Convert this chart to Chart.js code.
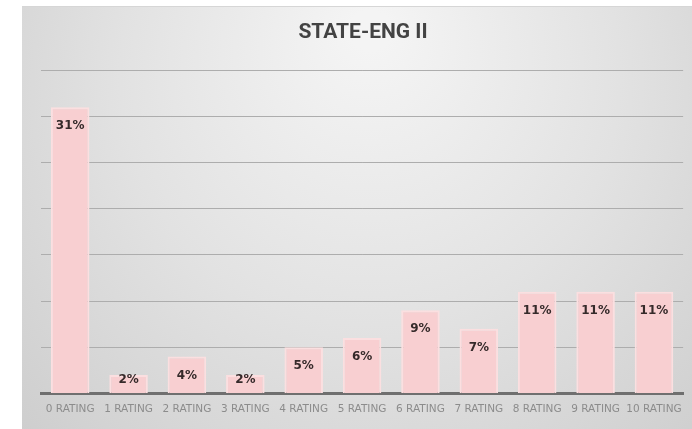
<!DOCTYPE html>
<html lang="en">
<head>
    <meta charset="UTF-8">
    <title>STATE-ENG II</title>
    <script src="https://cdn.jsdelivr.net/npm/chart.js@4.4.0/dist/chart.umd.min.js"></script>
    <style>
        html, body { margin: 0; padding: 0; background: #fff; }
        #box { width: 692px; height: 429px; }
    </style>
</head>
<body>
    <div id="box"><canvas id="myChart"></canvas></div>

    <script>
        // ratings and the share of answers for each
        const ratings = ['0 RATING', '1 RATING', '2 RATING', '3 RATING', '4 RATING', '5 RATING',
                         '6 RATING', '7 RATING', '8 RATING', '9 RATING', '10 RATING'];
        const shares = [31, 2, 4, 2, 5, 6, 9, 7, 11, 11, 11];
        const yTicks = [0, 5, 10, 15, 20, 25, 30, 35];

        // grey panel behind the chart
        const panelBg = {
            id: 'panelBg',
            beforeDraw(chart) {
                const ctx = chart.ctx;
                ctx.save();
                ctx.fillStyle = '#ffffff';
                ctx.fillRect(0, 0, chart.width, chart.height);
                const g = ctx.createRadialGradient(370, 30, 20, 370, 120, 480);
                g.addColorStop(0, '#f4f4f4');
                g.addColorStop(0.5, '#e2e2e2');
                g.addColorStop(1, '#cdcdcd');
                ctx.fillStyle = g;
                ctx.fillRect(22, 6, chart.width - 22, chart.height - 6);
                ctx.strokeStyle = '#d6d6d6';
                ctx.lineWidth = 1;
                ctx.beginPath();
                ctx.moveTo(22, 6.5);
                ctx.lineTo(chart.width, 6.5);
                ctx.stroke();
                ctx.restore();
            }
        };

        // percentage written inside the top of each bar
        const barLabels = {
            id: 'barLabels',
            afterDatasetsDraw(chart) {
                const ctx = chart.ctx;
                const meta = chart.getDatasetMeta(0);
                ctx.save();
                ctx.font = 'bold 12px "DejaVu Sans", sans-serif';
                ctx.fillStyle = '#352a2a';
                ctx.textAlign = 'center';
                ctx.textBaseline = 'middle';
                meta.data.forEach((bar, i) => {
                    const y = Math.min(bar.y + 19, bar.base - 13);
                    ctx.fillText(shares[i] + '%', bar.x, y);
                });
                ctx.restore();
            }
        };

        const ctx = document.getElementById('myChart').getContext('2d');
        const myChart = new Chart(ctx, {
            type: 'bar',
            data: {
                labels: ratings,
                datasets: [{
                    data: shares,
                    backgroundColor: '#f8cfd1',
                    borderColor: '#fbdfe0',
                    borderWidth: 2,
                    borderSkipped: 'bottom',
                    barPercentage: 0.66,
                    categoryPercentage: 1
                }]
            },
            options: {
                responsive: true,
                maintainAspectRatio: false,
                animation: false,
                layout: { padding: { left: 41, right: 7, top: 0, bottom: 3 } },
                plugins: {
                    legend: { display: false },
                    tooltip: { enabled: false },
                    title: {
                        display: true,
                        text: 'STATE-ENG II',
                        color: '#434343',
                        font: { family: '"Liberation Sans Narrow", Roboto, sans-serif', size: 21, weight: 'bold' },
                        padding: { top: 20, bottom: 25 }
                    }
                },
                scales: {
                    x: {
                        grid: { display: false, drawTicks: false },
                        border: { display: true, color: '#6f6f6f', width: 3 },
                        ticks: {
                            color: '#8c8c8c',
                            font: { family: '"DejaVu Sans", sans-serif', size: 10.5 },
                            padding: 10,
                            autoSkip: false,
                            maxRotation: 0
                        }
                    },
                    y: {
                        min: 0,
                        max: yTicks[yTicks.length - 1],
                        afterBuildTicks(axis) {
                            axis.ticks = yTicks.map(v => ({ value: v }));
                        },
                        grid: { color: '#adadad', lineWidth: 1, drawTicks: false },
                        border: { display: false },
                        ticks: { display: false }
                    }
                }
            },
            plugins: [panelBg, barLabels]
        });
    </script>
</body>
</html>
